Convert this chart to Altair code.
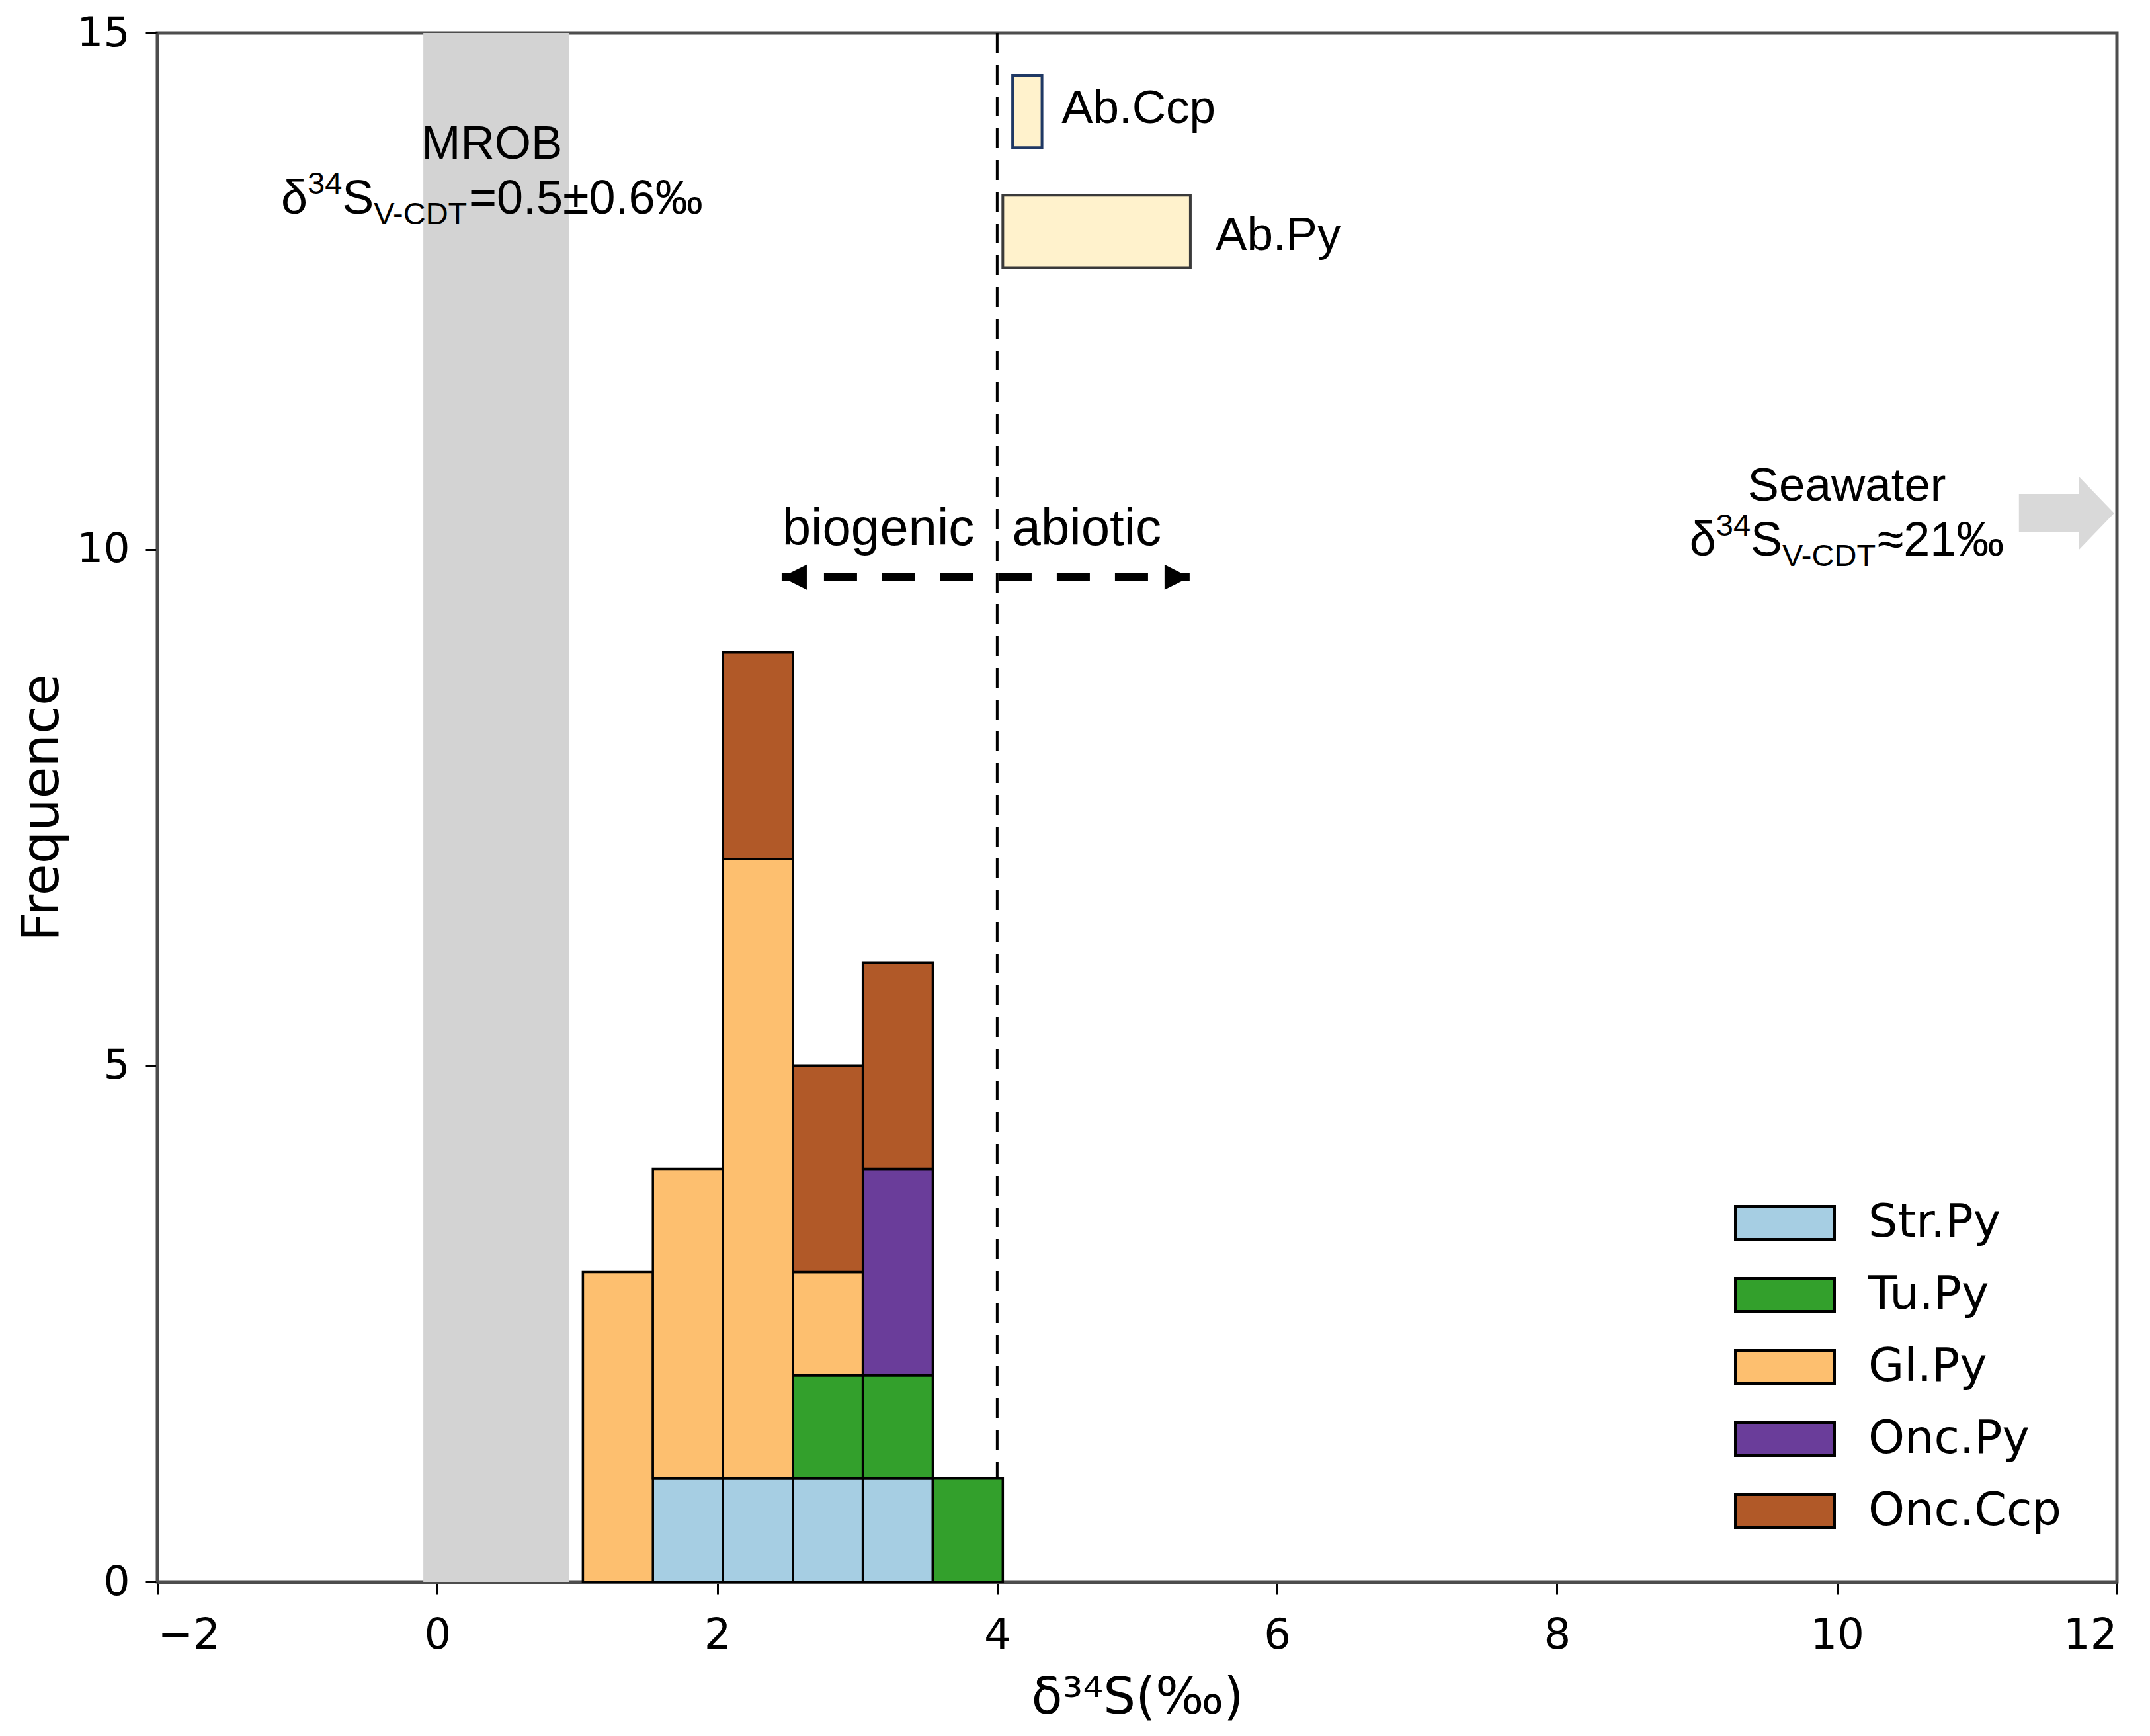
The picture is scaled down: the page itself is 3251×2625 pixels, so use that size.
import altair as alt
import pandas as pd

# ---------------- data ----------------
minerals = ["Str.Py", "Tu.Py", "Gl.Py", "Onc.Py", "Onc.Ccp"]
colors = ["#a6cee3", "#33a02c", "#fdbf6f", "#6a3d9a", "#b15928"]
bin_lo = [1.04, 1.54, 2.04, 2.54, 3.04, 3.54]
bin_hi = [1.54, 2.04, 2.54, 3.04, 3.54, 4.04]
counts_str_py = [0, 1, 1, 1, 1, 0]
counts_tu_py = [0, 0, 0, 1, 1, 1]
counts_gl_py = [3, 3, 6, 1, 0, 0]
counts_onc_py = [0, 0, 0, 0, 2, 0]
counts_onc_ccp = [0, 0, 2, 2, 2, 0]

x_domain = [-2, 12]
y_domain = [0, 15]
x_ticks = [-2, 0, 2, 4, 6, 8, 10, 12]
y_ticks = [0, 5, 10, 15]

mrob_band = [-0.10, 0.94]
boundary_x = 4.0

ab_names = ["Ab.Ccp", "Ab.Py"]
ab_x0 = [4.11, 4.04]
ab_x1 = [4.32, 5.38]
ab_y0 = [13.89, 12.73]
ab_y1 = [14.59, 13.43]
ab_strokes = ["#1f3864", "#3a3a3a"]
ab_label_x = [4.46, 5.56]
ab_label_y = [14.13, 12.90]

arrow_y = 9.73
arrow_x0 = 2.46
arrow_x1 = 5.375
zone_labels = ["biogenic", "abiotic"]
zone_label_x = [3.15, 4.64]
zone_label_y = 10.045

mrob_x = 0.39
mrob_y = [13.78, 13.25]
seawater_x = 10.07
seawater_y = [10.47, 9.94]
seawater_arrow_x = 11.98
seawater_arrow_y = 10.35

# ---------------- tables ----------------
series = [counts_str_py, counts_tu_py, counts_gl_py, counts_onc_py, counts_onc_ccp]
rows = []
for i in range(len(bin_lo)):
    base = 0
    for k, name in enumerate(minerals):
        c = series[k][i]
        if c > 0:
            rows.append({"lo": bin_lo[i], "hi": bin_hi[i], "y0": base, "y1": base + c,
                         "mineral": name, "order": k})
        base += c
bars_df = pd.DataFrame(rows)

W, H = 2963, 2342
TICK_FONT = "DejaVu Sans"
ANNOT_FONT = "Liberation Sans"

xs = alt.Scale(domain=x_domain, nice=False, zero=False)
ys = alt.Scale(domain=y_domain, nice=False, zero=False)

x_axis = alt.Axis(
    values=x_ticks, title="δ³⁴S(‰)", format="d",
    labelFont=TICK_FONT, labelFontSize=64, labelColor="black", labelPadding=30,
    tickSize=19, tickWidth=3, tickColor="black",
    domainColor="#4d4d4d", domainWidth=5,
    titleFont=TICK_FONT, titleFontSize=77, titleFontWeight="normal",
    titleColor="black", titlePadding=24, grid=False)
y_axis = alt.Axis(
    values=y_ticks, title="Frequence", format="d",
    labelFont=TICK_FONT, labelFontSize=63, labelColor="black", labelPadding=24,
    tickSize=18, tickWidth=3, tickColor="black",
    domainColor="#4d4d4d", domainWidth=5,
    titleFont=TICK_FONT, titleFontSize=78, titleFontWeight="normal",
    titleColor="black", titlePadding=12, grid=False)


def X(f):
    return alt.X(f, type="quantitative", scale=xs, axis=x_axis)


def Y(f):
    return alt.Y(f, type="quantitative", scale=ys, axis=y_axis)


def X2(f):
    return alt.X2(f)


def Y2(f):
    return alt.Y2(f)


# Arial / Liberation Sans advance widths (per 1000 em)
ARIAL = {"δ": 556, "S": 667, "V": 667, "-": 333, "C": 722, "D": 722, "T": 611,
         "=": 584, ".": 278, "±": 549, "≈": 549, "‰": 1000}
for d in "0123456789":
    ARIAL[d] = 556


def text_width(t, fs):
    return sum(ARIAL.get(ch, 556) for ch in t) * fs / 1000.0


def rich_line(x, y, segments, fs_big, fs_small):
    widths = [text_width(t, fs_big if k == "n" else fs_small) for t, k in segments]
    off = -sum(widths) / 2.0
    layers = []
    for (t, k), w in zip(segments, widths):
        fs = fs_big if k == "n" else fs_small
        dy = 0
        if k == "sup":
            dy = -0.42 * fs_big
        elif k == "sub":
            dy = 0.22 * fs_big
        layers.append(
            alt.Chart(pd.DataFrame({"x": [x], "y": [y], "t": [t]}))
            .mark_text(align="left", baseline="alphabetic", dx=off, dy=dy,
                       fontSize=fs, font=ANNOT_FONT, color="black")
            .encode(x=X("x"), y=Y("y"), text="t:N")
        )
        off += w
    return layers


# ---------------- layers ----------------
band = alt.Chart(pd.DataFrame({"a": [mrob_band[0]], "b": [mrob_band[1]],
                               "c": [y_domain[0]], "d": [y_domain[1]]})).mark_rect(
    color="#d3d3d3", opacity=1
).encode(x=X("a"), x2=X2("b"), y=Y("c"), y2=Y2("d"))

vline = alt.Chart(pd.DataFrame({"x": [boundary_x]})).mark_rule(
    color="black", strokeWidth=4, strokeDash=[30, 18]
).encode(x=X("x"))

bars = alt.Chart(bars_df).mark_bar(stroke="black", strokeWidth=3.5, opacity=1).encode(
    x=X("lo"),
    x2=X2("hi"),
    y=Y("y0"),
    y2=Y2("y1"),
    color=alt.Color("mineral:N", scale=alt.Scale(domain=minerals, range=colors),
                    sort=minerals,
                    legend=alt.Legend(
                        title=None, orient="none", legendX=2426, legendY=1764,
                        symbolType="M-3,-1 L3,-1 L3,1 L-3,1 Z", symbolSize=2500,
                        symbolStrokeColor="black", symbolStrokeWidth=4,
                        symbolOpacity=1, labelFont=TICK_FONT, labelFontSize=70,
                        labelColor="black", labelOffset=91, labelLimit=2000,
                        rowPadding=39, padding=0)),
    order=alt.Order("order:Q"),
)

ab_df = pd.DataFrame({"name": ab_names, "x0": ab_x0, "x1": ab_x1, "y0": ab_y0,
                      "y1": ab_y1, "stroke": ab_strokes,
                      "lx": ab_label_x, "ly": ab_label_y})
ab_boxes = alt.Chart(ab_df).mark_rect(fill="#fff2cc", strokeWidth=4, opacity=1).encode(
    x=X("x0"), x2=X2("x1"), y=Y("y0"), y2=Y2("y1"),
    stroke=alt.Stroke("stroke:N", scale=None),
)
ab_labels = alt.Chart(ab_df).mark_text(
    align="left", baseline="alphabetic", fontSize=71, font=ANNOT_FONT, color="black"
).encode(x=X("lx"), y=Y("ly"), text="name:N")

arrow_df = pd.DataFrame({"x0": [arrow_x0], "x1": [arrow_x1], "y": [arrow_y]})
arrow_line = alt.Chart(arrow_df).mark_rule(
    color="black", strokeWidth=12, strokeDash=[50, 38], strokeDashOffset=24
).encode(x=X("x0"), x2=X2("x1"), y=Y("y"))
head_left = alt.Chart(arrow_df).mark_point(
    shape="M0,0 L2,-1 L2,1 Z", filled=True, size=1444, color="black", opacity=1
).encode(x=X("x0"), y=Y("y"))
head_right = alt.Chart(arrow_df).mark_point(
    shape="M0,0 L-2,-1 L-2,1 Z", filled=True, size=1444, color="black", opacity=1
).encode(x=X("x1"), y=Y("y"))

zone_df = pd.DataFrame({"x": zone_label_x, "y": [zone_label_y] * 2, "t": zone_labels})
zone_text = alt.Chart(zone_df).mark_text(
    align="center", baseline="alphabetic", fontSize=78, font=ANNOT_FONT, color="black"
).encode(x=X("x"), y=Y("y"), text="t:N")

sea_arrow = alt.Chart(pd.DataFrame({"x": [seawater_arrow_x], "y": [seawater_arrow_y]})).mark_point(
    shape="M0,0 L-0.964,-1 L-0.964,-0.527 L-2.618,-0.527 L-2.618,0.527 L-0.964,0.527 L-0.964,1 Z",
    filled=True, size=12100, color="#d9d9d9", opacity=1, strokeWidth=0
).encode(x=X("x"), y=Y("y"))

title_df = pd.DataFrame({"x": [mrob_x, seawater_x], "y": [mrob_y[0], seawater_y[0]],
                         "t": ["MROB", "Seawater"]})
title_text = alt.Chart(title_df).mark_text(
    align="center", baseline="alphabetic", fontSize=71, font=ANNOT_FONT, color="black"
).encode(x=X("x"), y=Y("y"), text="t:N")

mrob_line = rich_line(mrob_x, mrob_y[1],
                      [("δ", "n"), ("34", "sup"), ("S", "n"), ("V-CDT", "sub"),
                       ("=0.5±0.6‰", "n")], 72, 47)
sea_line = rich_line(seawater_x, seawater_y[1],
                     [("δ", "n"), ("34", "sup"), ("S", "n"), ("V-CDT", "sub"),
                      ("≈21‰", "n")], 72, 47)

chart = alt.layer(
    band, vline, bars, ab_boxes, ab_labels, arrow_line, head_left, head_right,
    zone_text, sea_arrow, title_text, *mrob_line, *sea_line
).properties(
    width=W, height=H,
    padding={"left": 230, "top": 42, "right": 42, "bottom": 225},
    autosize=alt.AutoSizeParams(type="none"),
    background="white",
).configure_view(
    stroke="#4d4d4d", strokeWidth=5
)

chart.save("out.html", embed_options={"renderer": "svg", "actions": False})
